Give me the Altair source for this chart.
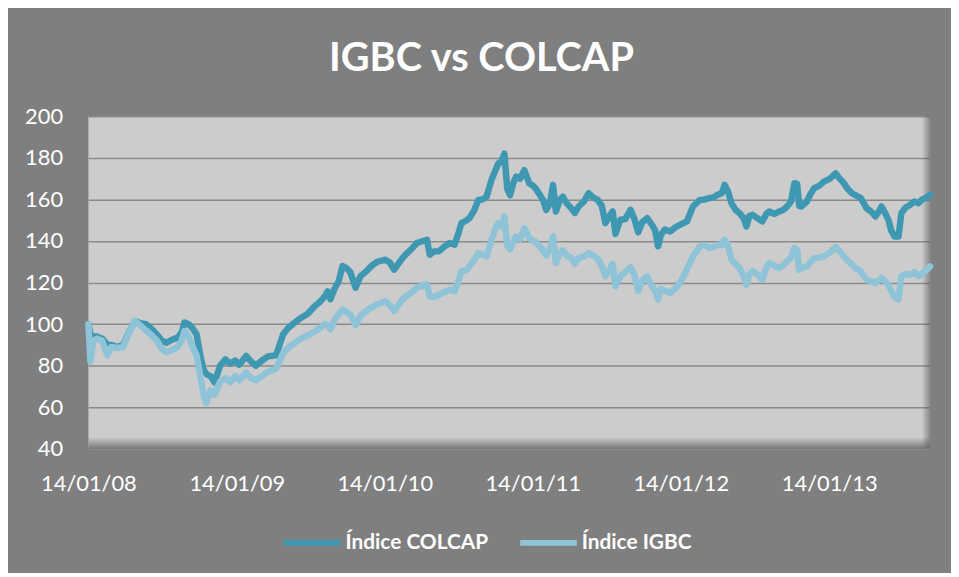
import altair as alt
import pandas as pd

START = "2008-01-14"
SERIES = ["Índice COLCAP", "Índice IGBC"]
COLORS = ["#3f98b2", "#8fc3d7"]
Y_TICKS = [40, 60, 80, 100, 120, 140, 160, 180, 200]
X_TICK_YEARS = [2008, 2009, 2010, 2011, 2012, 2013]

# days since 14/01/08
DAYS = [0, 5, 12, 22, 34, 47, 56, 71, 86, 95, 105, 115, 127, 142, 154, 169, 181, 193, 206, 220,
        230, 237, 247, 257, 267, 276, 284, 291, 301, 311, 325, 338, 350, 362, 372, 389, 401, 413, 428, 443,
        463, 480, 492, 509, 524, 541, 558, 570, 583, 590, 597, 607, 617, 627, 636, 646, 659, 671, 683, 698,
        712, 732, 744, 754, 766, 778, 796, 810, 825, 835, 842, 852, 864, 879, 891, 903, 913, 920, 933, 940,
        952, 962, 972, 982, 994, 1004, 1011, 1018, 1026, 1033, 1040, 1048, 1055, 1065, 1075, 1087, 1097, 1104, 1114, 1121,
        1129, 1138, 1146, 1153, 1163, 1170, 1180, 1190, 1200, 1209, 1222, 1234, 1244, 1256, 1266, 1275, 1285, 1293, 1300, 1312,
        1324, 1337, 1346, 1356, 1366, 1378, 1390, 1398, 1405, 1412, 1422, 1435, 1447, 1459, 1476, 1491, 1508, 1520, 1532, 1542,
        1552, 1562, 1569, 1577, 1586, 1596, 1606, 1616, 1623, 1630, 1638, 1650, 1662, 1672, 1679, 1692, 1704, 1714, 1723, 1733,
        1741, 1748, 1753, 1758, 1772, 1782, 1790, 1802, 1814, 1829, 1843, 1853, 1863, 1873, 1883, 1892, 1905, 1919, 1931, 1941,
        1949, 1956, 1966, 1973, 1980, 1988, 1998, 2005, 2015, 2027, 2037, 2047, 2056, 2064, 2076]

COLCAP = [100, 95, 94, 94, 93, 90, 90, 89, 90, 94, 98, 101.5, 100.5, 100, 98, 95, 92, 91, 92.5, 93.5,
          96, 100.8, 100, 98, 95, 85, 78, 76, 75, 72, 80, 83, 81, 82.5, 80.5, 84.7, 82, 80, 82.5, 84.5,
          85, 95, 98, 100.8, 103, 105, 108.6, 110.5, 113.4, 115.8, 112, 117, 120.5, 128, 127, 125, 117.5, 123, 125, 128,
          130, 131, 129.5, 126.2, 129.5, 132.6, 136, 139, 140, 140.6, 133.4, 135, 135, 137.5, 139, 138.2, 144, 148.6, 150, 151,
          155, 159.8, 160, 161.3, 169.3, 174, 177.3, 178, 182, 165, 162, 168, 171, 170, 174.1, 167.8, 166.5, 165, 162, 159.8,
          155, 158, 167, 154.2, 160, 161.3, 158, 156, 153.5, 156.6, 159, 163, 161, 159.8, 157, 148.6, 152, 154.2, 143.5, 150.2,
          150.5, 155, 151, 144.2, 149, 151, 147.8, 145, 137.4, 143, 145.5, 144.6, 146.5, 147.8, 149.4, 156.6, 159.8, 160, 160.6, 161,
          162.2, 163, 167, 164, 158.2, 155, 153.4, 151, 147, 152, 152.6, 151, 149.4, 153, 154.2, 153, 154.2, 155, 156.6, 159,
          167.8, 167.5, 157, 156.6, 159, 163, 165.4, 166.5, 168.6, 170, 172.5, 170, 167.8, 165, 163, 162, 160.6, 155.8, 154, 151.8,
          154, 156.6, 153, 150.2, 145, 142.2, 142.2, 153.4, 156, 157.4, 159, 158.2, 160, 160.6, 162.2]

IGBC = [100, 82, 92, 93, 92, 85, 89, 88.5, 89, 93.5, 98, 101.5, 99.5, 97, 95, 92, 88, 86.5, 87.5, 89,
        92, 96.7, 94, 89, 85, 75, 66, 62, 68, 66, 72.5, 74, 72, 75, 73, 76.8, 74, 73, 75, 77,
        78.5, 86, 88.5, 91, 93, 94.5, 96.5, 98, 100, 99.5, 97.5, 102, 104.7, 107, 106, 104.5, 99.5, 104, 106, 108,
        109.5, 111, 109, 106.3, 109.5, 112.7, 115, 117.5, 118.5, 119, 113.4, 113, 114, 115.5, 116.6, 115.8, 121, 125.4, 126, 127.8,
        131, 134.2, 133.5, 132.6, 140.6, 146, 148.6, 147, 151.8, 138, 136, 139.5, 142.2, 141, 146.2, 141.4, 140, 139.5, 137, 135.8,
        133, 136, 142.2, 129.5, 134, 135.5, 133, 132, 129, 131.8, 132.5, 134.2, 133, 131.5, 128, 123, 126, 129, 118.2, 123,
        125, 127.5, 124, 116, 121, 123, 118.2, 116, 112, 117, 116, 115, 117, 119.8, 126.2, 132.6, 137.4, 138, 136.6, 137,
        138.2, 138, 140.6, 138, 131, 129, 127, 123, 119, 124, 125.4, 124, 121.4, 127, 129.4, 128, 127, 128.5, 130.2, 132,
        136.6, 135.8, 126.2, 127, 127.8, 130, 131.8, 132, 132.6, 134.5, 137, 135, 132.6, 130.5, 128.6, 127, 125.4, 121.4, 120.5, 119.8,
        121, 122.3, 120.5, 119, 116, 113, 111.9, 123, 124, 123.8, 125, 123, 124.5, 125.4, 127.8]

start = pd.Timestamp(START)
dates = [(start + pd.Timedelta(days=d)).strftime("%Y-%m-%d") for d in DAYS]
df = pd.DataFrame({
    "date": dates * 2,
    "value": COLCAP + IGBC,
    "series": [SERIES[0]] * len(DAYS) + [SERIES[1]] * len(DAYS),
})

FONT = "Lato"

x_enc = alt.X(
    "date:T",
    scale=alt.Scale(type="utc", domain=[alt.DateTime(year=2008, month=1, date=14, utc=True),
                                        alt.DateTime(year=2013, month=9, date=20, utc=True)]),
    axis=alt.Axis(values=[alt.DateTime(year=y, month=1, date=14, utc=True) for y in X_TICK_YEARS],
                  labelExpr="utcFormat(datum.value, '%d/%m/%y')", title=None, grid=False, ticks=False, tickSize=0,
                  domain=False, labelColor="white", labelFont=FONT, labelFontSize=22,
                  labelPadding=25, labelFlush=False, labelOverlap=False),
)
y_enc = alt.Y(
    "value:Q",
    scale=alt.Scale(domain=[40, 200], nice=False, zero=False),
    axis=alt.Axis(values=Y_TICKS, title=None, ticks=False, tickSize=0, domain=False,
                  labelColor="white", labelFont=FONT, labelFontSize=22, labelPadding=26,
                  gridColor="#8a8a8a", gridWidth=1.5),
)
color_enc = alt.Color(
    "series:N",
    scale=alt.Scale(domain=SERIES, range=COLORS),
    legend=alt.Legend(orient="none", direction="horizontal", legendX=194, legendY=398,
                      title=None, symbolType="stroke", symbolSize=3249, symbolStrokeWidth=6,
                      labelColor="white", labelFont=FONT, labelFontSize=21, labelFontWeight="bold",
                      labelOffset=2, columnPadding=20),
)

shadow = alt.Chart(alt.Data(values=[{}])).mark_rect(
    fill=alt.LinearGradient(gradient="linear", x1=0, y1=0, x2=0, y2=1, stops=[
        alt.GradientStop(offset=0, color="rgba(90,90,90,0)"),
        alt.GradientStop(offset=0.965, color="rgba(90,90,90,0)"),
        alt.GradientStop(offset=1, color="rgba(90,90,90,0.75)"),
    ])
).encode(x=alt.value(0), x2=alt.value("width"), y=alt.value(0), y2=alt.value("height"))

shadow_r = alt.Chart(alt.Data(values=[{}])).mark_rect(
    fill=alt.LinearGradient(gradient="linear", x1=0, y1=0, x2=1, y2=0, stops=[
        alt.GradientStop(offset=0, color="rgba(90,90,90,0)"),
        alt.GradientStop(offset=0.99, color="rgba(90,90,90,0)"),
        alt.GradientStop(offset=1, color="rgba(90,90,90,0.6)"),
    ])
).encode(x=alt.value(0), x2=alt.value("width"), y=alt.value(0), y2=alt.value("height"))

base = alt.Chart(df).mark_line(strokeWidth=6.5, strokeCap="round", strokeJoin="round").encode(
    x=x_enc, y=y_enc, color=color_enc
)
l_colcap = base.transform_filter(alt.datum.series == SERIES[0])
l_igbc = base.transform_filter(alt.datum.series == SERIES[1])

chart = alt.layer(shadow, shadow_r, l_colcap, l_igbc).properties(
    width=848,
    height=335,
    padding={"left": 81, "top": 107, "right": 21, "bottom": 123},
    autosize=alt.AutoSizeParams(type="none"),
    background="#7f7f7f",
    title=alt.Title("IGBC vs COLCAP", color="white", font=FONT, fontSize=40, fontWeight="bold",
                    anchor="middle", frame="group", dx=-28, offset=-5, baseline="alphabetic"),
).configure_view(fill="#cccccc", stroke=None)

chart.save("out.html", embed_options={"renderer": "svg", "actions": False})
